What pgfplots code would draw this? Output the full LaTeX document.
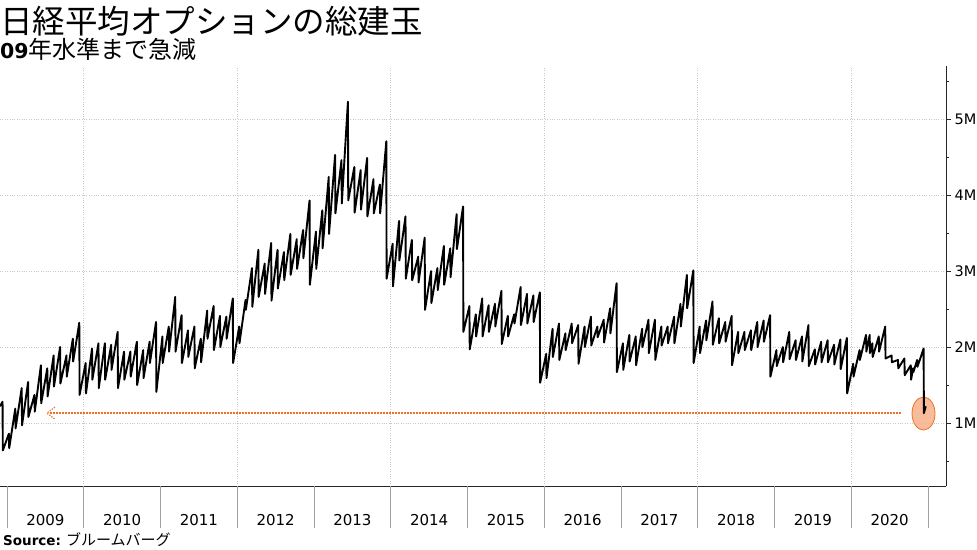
\documentclass[border=0pt]{standalone}
\usepackage{pgfplots}
\pgfplotsset{compat=1.18}
\usepackage{fontspec}
\setmainfont{DejaVu Sans}
\newfontfamily\cjk{Noto Sans CJK JP}
\usetikzlibrary{arrows.meta}
\definecolor{anno}{HTML}{EE6E2A}
\definecolor{annofill}{HTML}{F7B088}
\definecolor{gridc}{HTML}{C8C8C8}
\definecolor{sepc}{HTML}{A0A0A0}

\pgfplotstableread{
x y
2008.909 1.22
2008.942 1.28
2008.946 0.64
2009.025 0.86
2009.029 0.67
2009.108 1.19
2009.112 0.93
2009.192 1.46
2009.196 0.97
2009.275 1.54
2009.279 1.08
2009.358 1.37
2009.362 1.15
2009.442 1.76
2009.446 1.26
2009.525 1.72
2009.529 1.35
2009.608 1.89
2009.612 1.48
2009.692 2.00
2009.696 1.52
2009.775 1.89
2009.779 1.61
2009.858 2.11
2009.862 1.81
2009.942 2.32
2009.946 1.37
2010.025 1.79
2010.029 1.39
2010.108 1.98
2010.112 1.57
2010.192 2.05
2010.196 1.46
2010.275 2.05
2010.279 1.57
2010.358 2.03
2010.362 1.70
2010.442 2.20
2010.446 1.46
2010.525 1.94
2010.529 1.57
2010.608 1.94
2010.612 1.61
2010.692 2.07
2010.696 1.50
2010.775 1.96
2010.779 1.59
2010.858 2.07
2010.862 1.79
2010.942 2.33
2010.946 1.41
2011.025 2.14
2011.029 1.79
2011.108 2.27
2011.112 1.94
2011.192 2.66
2011.196 1.94
2011.275 2.42
2011.279 1.79
2011.358 2.22
2011.362 1.87
2011.442 2.27
2011.446 1.72
2011.525 2.11
2011.529 1.80
2011.608 2.48
2011.612 2.11
2011.692 2.54
2011.696 1.96
2011.775 2.41
2011.779 2.00
2011.858 2.40
2011.862 2.11
2011.942 2.64
2011.946 1.79
2012.025 2.27
2012.029 2.05
2012.108 2.62
2012.112 2.49
2012.192 3.04
2012.196 2.53
2012.275 3.28
2012.279 2.66
2012.358 3.10
2012.362 2.70
2012.442 3.37
2012.446 2.61
2012.525 3.28
2012.529 2.77
2012.608 3.25
2012.612 2.88
2012.692 3.49
2012.696 2.95
2012.775 3.42
2012.779 3.03
2012.858 3.54
2012.862 3.17
2012.942 3.93
2012.946 2.82
2013.025 3.52
2013.029 3.03
2013.108 3.80
2013.112 3.30
2013.192 4.24
2013.196 3.49
2013.275 4.53
2013.279 3.76
2013.358 4.46
2013.362 3.89
2013.442 5.23
2013.446 3.93
2013.525 4.37
2013.529 3.77
2013.608 4.33
2013.612 3.81
2013.692 4.49
2013.696 3.72
2013.775 4.21
2013.779 3.76
2013.858 4.14
2013.862 3.76
2013.942 4.71
2013.946 2.90
2014.025 3.36
2014.029 2.80
2014.108 3.66
2014.112 3.14
2014.192 3.72
2014.196 2.90
2014.275 3.41
2014.279 2.88
2014.358 3.19
2014.362 2.85
2014.442 3.44
2014.446 2.49
2014.525 3.00
2014.529 2.58
2014.608 3.04
2014.612 2.75
2014.692 3.33
2014.696 2.82
2014.775 3.30
2014.779 2.92
2014.858 3.75
2014.862 3.29
2014.942 3.85
2014.946 2.20
2015.025 2.54
2015.029 1.97
2015.108 2.43
2015.112 2.14
2015.192 2.64
2015.196 2.14
2015.275 2.55
2015.279 2.20
2015.358 2.57
2015.362 2.27
2015.442 2.74
2015.446 2.04
2015.525 2.41
2015.529 2.14
2015.608 2.43
2015.612 2.31
2015.692 2.79
2015.696 2.29
2015.775 2.70
2015.779 2.31
2015.858 2.68
2015.862 2.33
2015.942 2.72
2015.946 1.53
2016.025 1.91
2016.029 1.59
2016.108 2.24
2016.112 1.87
2016.192 2.31
2016.196 1.83
2016.275 2.18
2016.279 1.96
2016.358 2.31
2016.362 2.05
2016.442 2.29
2016.446 1.78
2016.525 2.27
2016.529 2.00
2016.608 2.40
2016.612 2.02
2016.692 2.27
2016.696 2.13
2016.775 2.36
2016.779 2.06
2016.858 2.51
2016.862 2.18
2016.942 2.84
2016.946 1.67
2017.025 2.05
2017.029 1.70
2017.108 2.16
2017.112 1.81
2017.192 2.14
2017.196 1.76
2017.275 2.24
2017.279 2.00
2017.358 2.36
2017.362 1.92
2017.442 2.36
2017.446 1.83
2017.525 2.27
2017.529 2.02
2017.608 2.27
2017.612 2.05
2017.692 2.40
2017.696 2.05
2017.775 2.57
2017.779 2.27
2017.858 2.95
2017.862 2.51
2017.942 3.01
2017.946 1.79
2018.025 2.27
2018.029 1.92
2018.108 2.35
2018.112 2.09
2018.192 2.60
2018.196 2.03
2018.275 2.38
2018.279 2.05
2018.358 2.33
2018.362 2.07
2018.442 2.41
2018.446 1.76
2018.525 2.20
2018.529 1.92
2018.608 2.20
2018.612 1.96
2018.692 2.22
2018.696 1.96
2018.775 2.33
2018.779 2.00
2018.858 2.35
2018.862 2.07
2018.942 2.42
2018.946 1.61
2019.025 1.96
2019.029 1.75
2019.108 2.00
2019.112 1.80
2019.192 2.20
2019.196 1.84
2019.275 2.09
2019.279 1.83
2019.358 2.14
2019.362 1.81
2019.442 2.29
2019.446 1.75
2019.525 1.97
2019.529 1.77
2019.608 2.07
2019.612 1.80
2019.692 2.09
2019.696 1.80
2019.775 2.03
2019.779 1.77
2019.858 2.10
2019.862 1.71
2019.942 2.12
2019.946 1.39
2020.025 1.78
2020.029 1.61
2020.108 1.96
2020.112 1.83
2020.192 2.16
2020.196 1.94
2020.240 2.16
2020.243 1.92
2020.275 2.05
2020.279 1.87
2020.358 2.14
2020.362 1.94
2020.442 2.27
2020.446 1.85
2020.525 1.89
2020.529 1.80
2020.608 1.83
2020.612 1.72
2020.692 1.85
2020.696 1.63
2020.775 1.76
2020.779 1.57
2020.805 1.72
2020.809 1.67
2020.858 1.83
2020.862 1.74
2020.942 1.98
2020.946 1.13
2020.970 1.22
}\oitable

\begin{document}
\begin{tikzpicture}
\path[use as bounding box] (0pt,-63pt) rectangle (977pt,486pt);
\begin{axis}[
  at={(0pt,0pt)}, anchor=south west,
  scale only axis, width=946pt, height=420pt,
  xmin=2008.909, xmax=2021.234, ymin=0.171, ymax=5.70,
  clip mode=individual,
  axis x line*=bottom, axis y line*=right,
  axis line style={black!85, line width=0.8pt},
  xtick={2009.5,2010.5,2011.5,2012.5,2013.5,2014.5,2015.5,2016.5,2017.5,2018.5,2019.5,2020.5},
  xticklabels={2009,2010,2011,2012,2013,2014,2015,2016,2017,2018,2019,2020},
  x tick style={draw=none},
  xticklabel style={font=\fontsize{15}{17}\selectfont, yshift=-20pt},
  extra x ticks={2010,2012,2014,2016,2018,2020},
  extra x tick labels={},
  extra x tick style={grid=major, major tick length=0pt},
  ytick={1,2,3,4,5}, yticklabels={1M,2M,3M,4M,5M},
  minor ytick={0.5,1.5,2.5,3.5,4.5,5.5},
  ymajorgrids,
  grid style={gridc, dotted, line width=0.7pt},
  tick align=outside, major tick length=5pt, minor tick length=3pt,
  y tick style={black!85, line width=0.8pt},
  yticklabel style={font=\fontsize{14.5}{16}\selectfont, anchor=west},
]
\pgfplotsinvokeforeach{2009,2010,2011,2012,2013,2014,2015,2016,2017,2018,2019,2020,2021}{
  \draw[sepc, line width=0.7pt] (axis cs:#1,0.171) -- ++(0pt,-42pt);
}
\filldraw[fill=annofill, fill opacity=0.85, draw=anno, line width=0.8pt]
  (axis cs:2020.941,1.125) ellipse [x radius=11.5pt, y radius=16.5pt];
\draw[anno, line width=1.6pt, dash pattern=on 1.6pt off 1.4pt]
  (axis cs:2009.56,1.13) -- (axis cs:2020.66,1.13);
\draw[anno, line width=1.2pt, dash pattern=on 1.3pt off 1.3pt]
  ([xshift=8pt,yshift=6pt]axis cs:2009.52,1.13) -- (axis cs:2009.52,1.13) -- ([xshift=8pt,yshift=-6pt]axis cs:2009.52,1.13);
\addplot[black, line width=1.9pt, line join=round, mark=none] table[x=x,y=y] {\oitable};
\end{axis}
\node[anchor=west, inner sep=0pt] at (0pt,465pt) {\cjk\fontsize{32.5}{34}\selectfont 日経平均オプションの総建玉};
\node[anchor=west, inner sep=0pt] at (0pt,437pt) {{\fontsize{20.5}{22}\selectfont\bfseries 09}{\cjk\fontsize{24}{26}\selectfont 年水準まで急減}};
\node[anchor=west, inner sep=0pt] at (3pt,-54pt) {{\fontsize{13.5}{15}\selectfont\bfseries Source:}\hspace{5pt}{\cjk\fontsize{15}{16}\selectfont ブルームバーグ}};
\end{tikzpicture}
\end{document}
